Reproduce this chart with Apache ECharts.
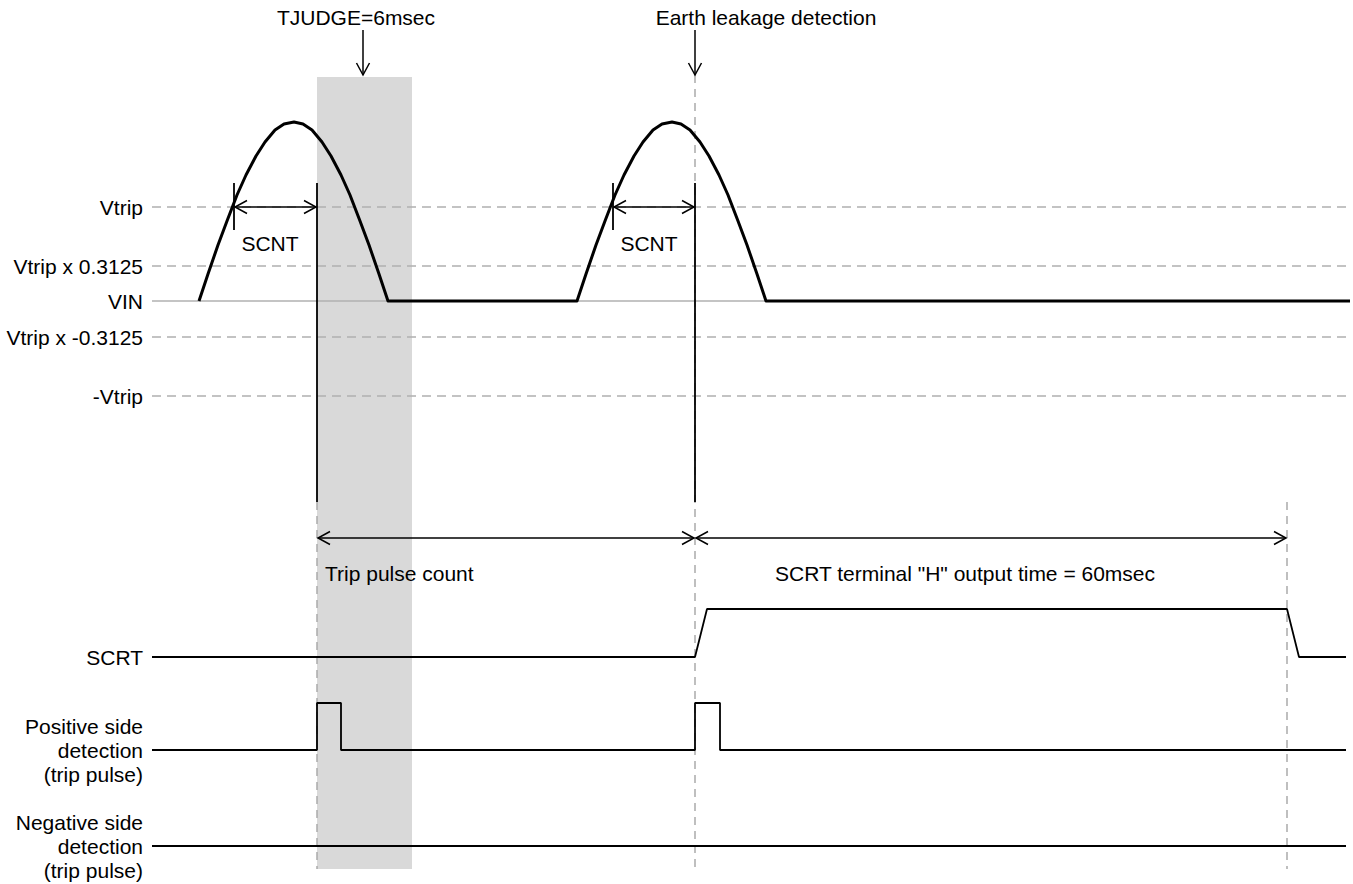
<!DOCTYPE html>
<html><head><meta charset="utf-8">
<script src="https://cdn.jsdelivr.net/npm/echarts@6/dist/echarts.min.js"></script>
<style>html,body{margin:0;padding:0;background:#fff;}#chart{width:1353px;height:884px;}</style>
</head><body><div id="chart"></div>
<script>
// ---- diagram data (horizontal = time units, vertical = diagram level units, top = 0) ----
const levelNames = ['Vtrip', 'Vtrip x 0.3125', 'VIN', 'Vtrip x -0.3125', '-Vtrip'];
const levelY = [207, 266, 301, 337, 396];
const levelDashed = [true, true, false, true, true];
const levelStartX = 152, levelEndX = 1350;

const signalNames = ['SCRT', 'Positive side\ndetection\n(trip pulse)', 'Negative side\ndetection\n(trip pulse)'];
const signalY = [657, 750, 846];

// input waveform (two half-wave humps above VIN)
const vinX = [199, 208, 218, 227, 237, 246, 256, 265, 275, 284, 294, 303, 312, 322, 331, 341, 350, 360, 369, 379, 388,
              577, 586, 596, 605, 615, 624, 634, 643, 653, 662, 672, 681, 690, 700, 709, 719, 728, 738, 747, 757, 766, 1350];
const vinY = [301, 274, 245, 221, 195, 175, 156, 142, 130, 124, 122, 124, 130, 142, 156, 175, 195, 221, 245, 274, 301,
              301, 274, 245, 221, 195, 175, 156, 142, 130, 124, 122, 124, 130, 142, 156, 175, 195, 221, 245, 274, 301, 301];

// SCRT output
const scrtX = [152, 695, 707, 1287, 1299, 1346];
const scrtY = [657, 657, 609, 609, 657, 657];
// positive side detection pulses
const posX = [152, 317, 317, 341, 341, 695, 695, 720, 720, 1346];
const posY = [750, 750, 703, 703, 750, 750, 703, 703, 750, 750];
// negative side detection
const negX = [152, 1346];
const negY = [846, 846];

// TJUDGE window
const judgeBand = [[317, 77, 412, 869]];
// solid vertical markers / SCNT start ticks  [x1,y1,x2,y2]
const solidSegs = [[317, 183, 317, 502], [695, 183, 695, 502], [234, 183, 234, 230], [613, 183, 613, 230]];
// dashed vertical guides
const dashedSegs = [[317, 502, 317, 869], [695, 75, 695, 869], [1287, 502, 1287, 869]];
// arrows [x1,y1,x2,y2, headAtStart, headAtEnd]
const arrows = [
  [363, 30, 363, 75, 0, 1],
  [695, 30, 695, 75, 0, 1],
  [235, 207, 316, 207, 1, 1],
  [614, 207, 694, 207, 1, 1],
  [318, 538, 694, 538, 1, 1],
  [696, 538, 1286, 538, 1, 1]
];
// annotations
const noteTexts = ['TJUDGE=6msec', 'Earth leakage detection', 'SCNT', 'SCNT', 'Trip pulse count', 'SCRT terminal "H" output time = 60msec'];
const noteX = [356, 766, 270, 649, 325, 965];
const noteY = [17, 17, 243, 243, 573, 573];
const noteAlign = ['center', 'center', 'center', 'center', 'left', 'center'];

// ---- rendering ----
const FONT = '"Liberation Sans", Arial, sans-serif';
const FS = 21;
const chart = echarts.init(document.getElementById('chart'), null, {renderer: 'svg'});

function segRender(color, width, dash) {
  return function (params, api) {
    const a = api.coord([api.value(0), api.value(1)]);
    const b = api.coord([api.value(2), api.value(3)]);
    return {type: 'line', shape: {x1: a[0], y1: a[1], x2: b[0], y2: b[1]},
      style: {stroke: color, lineWidth: width, lineDash: dash || null, fill: null}};
  };
}
function arrowRender(params, api) {
  const a = api.coord([api.value(0), api.value(1)]);
  const b = api.coord([api.value(2), api.value(3)]);
  const dx = b[0] - a[0], dy = b[1] - a[1], len = Math.hypot(dx, dy);
  const ux = dx / len, uy = dy / len, nx = -uy, ny = ux, L = 12, W = 6.5;
  const st = {stroke: '#000', lineWidth: 1.5, fill: null};
  const ch = [{type: 'line', shape: {x1: a[0], y1: a[1], x2: b[0], y2: b[1]}, style: st}];
  if (api.value(4)) ch.push({type: 'polyline', shape: {points: [[a[0] + ux * L + nx * W, a[1] + uy * L + ny * W], [a[0], a[1]], [a[0] + ux * L - nx * W, a[1] + uy * L - ny * W]]}, style: st});
  if (api.value(5)) ch.push({type: 'polyline', shape: {points: [[b[0] - ux * L + nx * W, b[1] - uy * L + ny * W], [b[0], b[1]], [b[0] - ux * L - nx * W, b[1] - uy * L - ny * W]]}, style: st});
  return {type: 'group', children: ch};
}
function textRender(texts, aligns) {
  return function (params, api) {
    const p = api.coord([api.value(0), api.value(1)]);
    return {type: 'text', x: p[0], y: p[1],
      style: {text: texts[params.dataIndex], align: aligns[params.dataIndex], verticalAlign: 'middle',
        font: FS + 'px ' + FONT, fill: '#000', lineHeight: 24}};
  };
}
const pts = (xs, ys) => xs.map((x, i) => [x, ys[i]]);
const enc = {x: [0, 2], y: [1, 3]};

const series = [
  {type: 'custom', coordinateSystem: 'cartesian2d', encode: enc, silent: true, data: judgeBand,
    renderItem: function (params, api) {
      const a = api.coord([api.value(0), api.value(1)]), b = api.coord([api.value(2), api.value(3)]);
      return {type: 'rect', shape: {x: a[0], y: a[1], width: b[0] - a[0], height: b[1] - a[1]}, style: {fill: '#d9d9d9'}};
    }},
  {type: 'custom', coordinateSystem: 'cartesian2d', encode: enc, silent: true,
    data: levelY.map((y, i) => levelDashed[i] ? [levelStartX, y, levelEndX, y] : null).filter(Boolean),
    renderItem: segRender('#b0b0b0', 1.6, [9, 6])},
  {type: 'custom', coordinateSystem: 'cartesian2d', encode: enc, silent: true,
    data: levelY.map((y, i) => !levelDashed[i] ? [levelStartX, y, levelEndX, y] : null).filter(Boolean),
    renderItem: segRender('#b0b0b0', 1.6, null)},
  {type: 'custom', coordinateSystem: 'cartesian2d', encode: enc, silent: true, data: dashedSegs,
    renderItem: segRender('#aaaaaa', 1.5, [8, 6])},
  {type: 'custom', coordinateSystem: 'cartesian2d', encode: enc, silent: true, data: solidSegs,
    renderItem: segRender('#000', 1.8, null)},
  {type: 'line', data: pts(vinX, vinY), symbol: 'none', silent: true, lineStyle: {color: '#000', width: 3, join: 'round'}},
  {type: 'line', data: pts(scrtX, scrtY), symbol: 'none', silent: true, lineStyle: {color: '#000', width: 1.8}},
  {type: 'line', data: pts(posX, posY), symbol: 'none', silent: true, lineStyle: {color: '#000', width: 1.8}},
  {type: 'line', data: pts(negX, negY), symbol: 'none', silent: true, lineStyle: {color: '#000', width: 2.2}},
  {type: 'custom', coordinateSystem: 'cartesian2d', encode: enc, silent: true, data: arrows, renderItem: arrowRender},
  {type: 'custom', coordinateSystem: 'cartesian2d', silent: true,
    data: levelY.map(y => [143, y]), renderItem: textRender(levelNames, levelNames.map(() => 'right'))},
  {type: 'custom', coordinateSystem: 'cartesian2d', silent: true,
    data: signalY.map(y => [143, y]), renderItem: textRender(signalNames, signalNames.map(() => 'right'))},
  {type: 'custom', coordinateSystem: 'cartesian2d', silent: true,
    data: pts(noteX, noteY), renderItem: textRender(noteTexts, noteAlign)}
];

chart.setOption({
  animation: false,
  backgroundColor: '#fff',
  grid: {left: 0, right: 0, top: 0, bottom: 0},
  xAxis: {type: 'value', min: 0, max: 1353, show: false},
  yAxis: {type: 'value', min: 0, max: 884, inverse: true, show: false},
  series: series
});
</script></body></html>
